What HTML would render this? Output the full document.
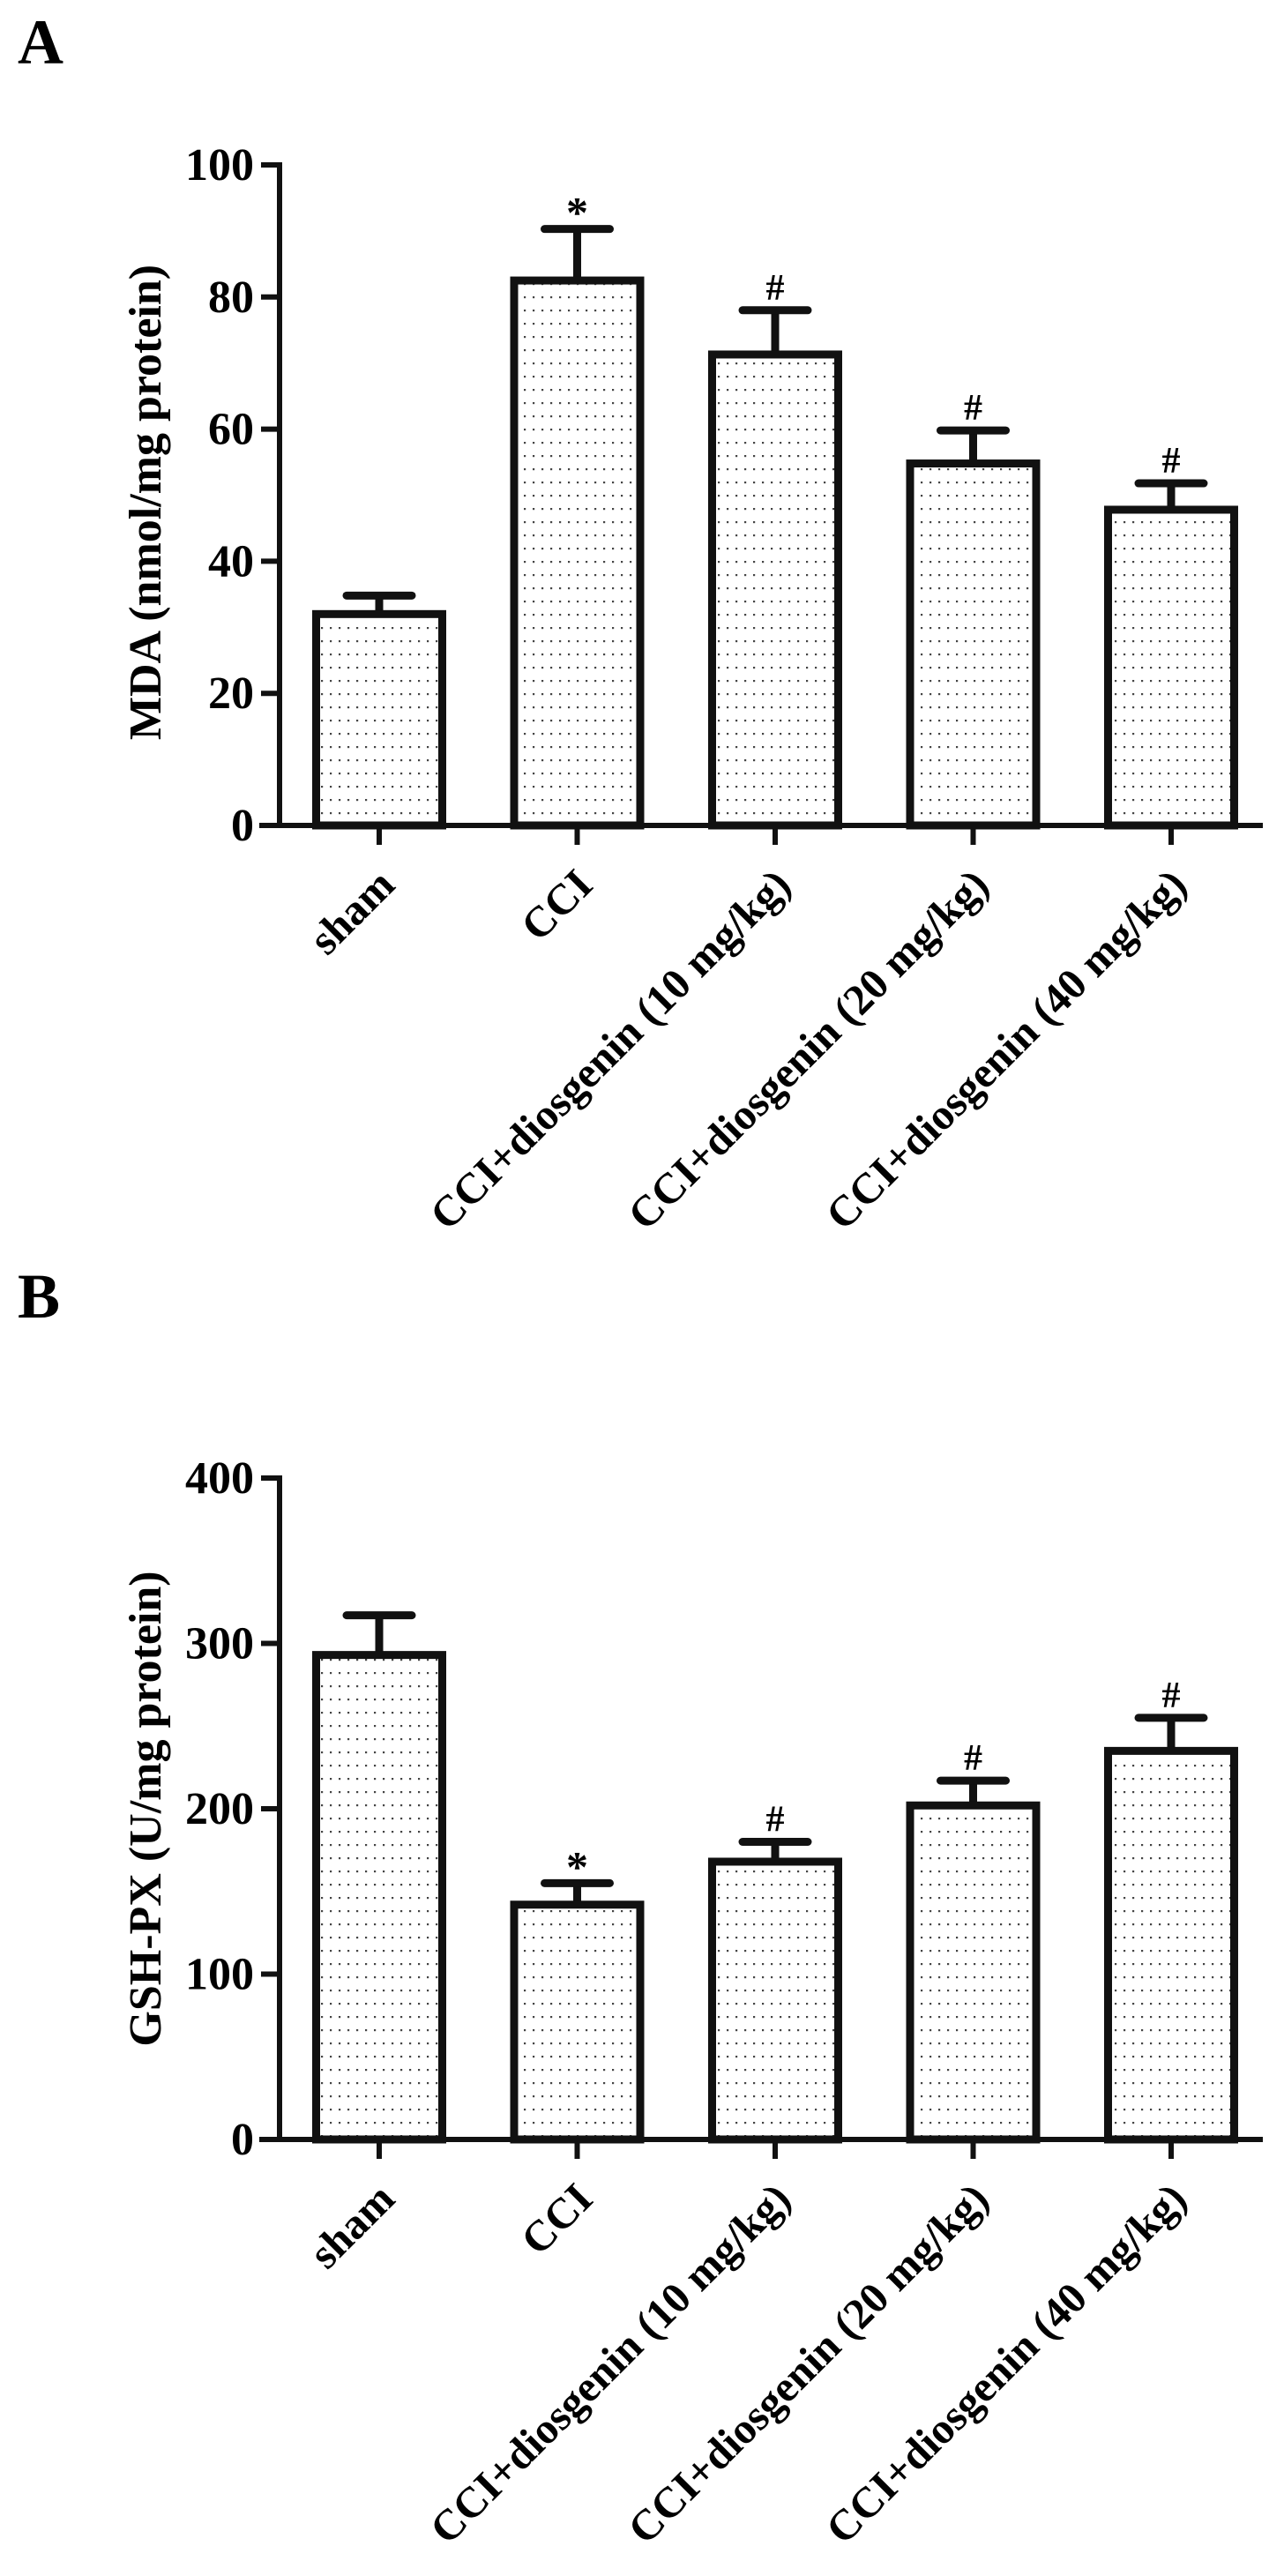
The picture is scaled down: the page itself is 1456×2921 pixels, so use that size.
<!DOCTYPE html>
<html><head><meta charset="utf-8"><style>
html,body{margin:0;padding:0;background:#fff;}
svg{display:block;font-family:"Liberation Serif","Times New Roman",serif;font-weight:bold;}
</style></head><body>
<svg id="fig" width="1456" height="2921" viewBox="0 0 1456 2921" xmlns="http://www.w3.org/2000/svg">
<defs>
<pattern id="dots" width="10" height="15" patternUnits="userSpaceOnUse">
<rect width="10" height="15" fill="#fff"/>
<rect x="4" y="6" width="2.2" height="2.2" fill="#444"/>
</pattern>
</defs>
</svg>
<script>
const categories = ["sham","CCI","CCI+diosgenin (10 mg/kg)","CCI+diosgenin (20 mg/kg)","CCI+diosgenin (40 mg/kg)"];
const mdaValues = [32, 82.5, 71.3, 54.8, 47.8];
const mdaErrors = [2.8, 7.8, 6.7, 5.0, 4.0];
const mdaMarks = ["", "*", "#", "#", "#"];
const mdaTicks = [0, 20, 40, 60, 80, 100];
const gshValues = [293, 142, 168, 202, 235];
const gshErrors = [24, 13, 12, 15, 20];
const gshMarks = ["", "*", "#", "#", "#"];
const gshTicks = [0, 100, 200, 300, 400];

const NS = "http://www.w3.org/2000/svg";
const svg = document.getElementById("fig");
function mk(tag, attrs, parent) {
  const e = document.createElementNS(NS, tag);
  for (const k in attrs) e.setAttribute(k, attrs[k]);
  (parent || svg).appendChild(e);
  return e;
}

function drawPanel(p) {
  const g = mk("g", {});
  
  
  const x0 = 317, x1 = 1432, yTop = p.yTop, yBase = p.yBase;
  const maxV = p.ticks[p.ticks.length - 1];
  const y = v => yBase - (v / maxV) * (yBase - yTop);
  const xs = i => 430 + i * 224.5;

  const letter = mk("text", {x: 20, y: p.letterY, "font-size": 72}, g);
  letter.textContent = p.letter;
  
  

  categories.forEach((c, i) => {
    const v = p.values[i], e = p.errors[i], cx = xs(i), w = 143;
    const errTop = y(v + e);
    const el = mk("line", {x1: cx, x2: cx, y1: y(v), y2: errTop, stroke: "#111", "stroke-width": 9}, g);
    
    
    const cap = mk("line", {x1: cx - 37, x2: cx + 37, y1: errTop, y2: errTop, stroke: "#111", "stroke-width": 9, "stroke-linecap": "round"}, g);
    
    
    const bar = mk("rect", {x: cx - w / 2, y: y(v), width: w, height: yBase - y(v), fill: "url(#dots)", stroke: "#111", "stroke-width": 9}, g);
    
    
    if (p.marks[i]) {
      const m = mk("text", {x: cx, y: errTop - (p.marks[i] === "*" ? 2 : 12), "text-anchor": "middle", "font-size": p.marks[i] === "*" ? 50 : 42}, g);
      m.textContent = p.marks[i];
      
      
    }
    const tk = mk("line", {x1: cx, x2: cx, y1: yBase, y2: yBase + 22, stroke: "#111", "stroke-width": 6}, g);
    
    
    const lx = cx + 20, ly = yBase + 70;
    const lab = mk("text", {x: lx, y: ly, "text-anchor": "end", "font-size": 49, transform: `rotate(-45 ${lx} ${ly})`}, g);
    lab.textContent = c;
    
    
  });

  const ya = mk("line", {x1: x0, x2: x0, y1: yTop - 3, y2: yBase + 3, stroke: "#111", "stroke-width": 6}, g);
  
  
  const xa = mk("line", {x1: 294, x2: x1, y1: yBase, y2: yBase, stroke: "#111", "stroke-width": 6}, g);
  
  
  p.ticks.forEach(t => {
    const tl = mk("line", {x1: 296, x2: x0, y1: y(t), y2: y(t), stroke: "#111", "stroke-width": 6}, g);
    
    
    const tt = mk("text", {x: 288, y: y(t) + 17, "text-anchor": "end", "font-size": 52}, g);
    tt.textContent = t;
    
    
  });
  const cy = (yTop + yBase) / 2 + p.titleShift;
  const ttl = mk("text", {x: 182, y: cy, "text-anchor": "middle", "font-size": 52, transform: `rotate(-90 182 ${cy})`}, g);
  ttl.textContent = p.title;
  
  
}

drawPanel({name: "panel-a-mda-chart", letter: "A", letterY: 72, yTop: 187, yBase: 936, ticks: mdaTicks,
  values: mdaValues, errors: mdaErrors, marks: mdaMarks, title: "MDA (nmol/mg protein)", titleShift: 8});
drawPanel({name: "panel-b-gsh-chart", letter: "B", letterY: 1494, yTop: 1676, yBase: 2426, ticks: gshTicks,
  values: gshValues, errors: gshErrors, marks: gshMarks, title: "GSH-PX (U/mg protein)", titleShift: 0});
</script>
</body></html>
